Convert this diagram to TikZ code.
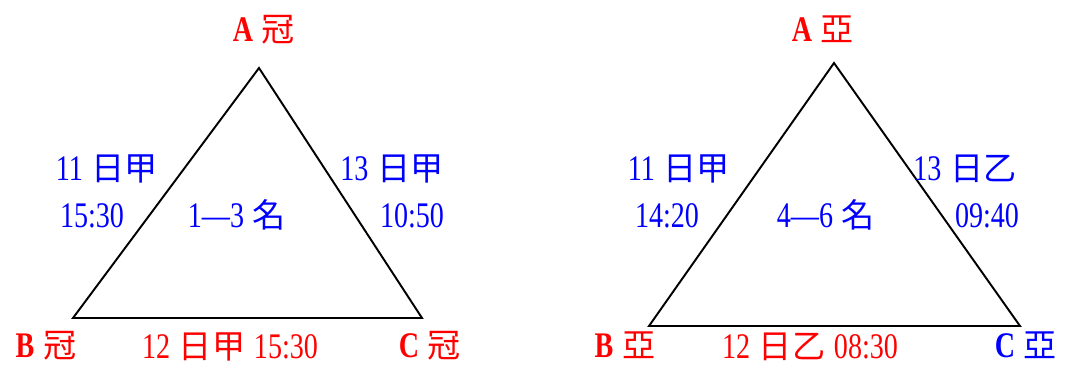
\documentclass[tikz,border=0pt]{standalone}
\usepackage{fontspec}
\setmainfont[FakeStretch=0.78]{Liberation Serif}
\newfontfamily\cjkfont[Scale=0.92]{Noto Sans CJK TC}
\newcommand\gap{\hspace{5pt}}

\begin{document}
\begin{tikzpicture}[x=0.02cm,y=0.02cm,font=\fontsize{20.5}{24}\selectfont,
vtx/.style={anchor=base,inner sep=0pt,font=\fontsize{20.5}{24}\selectfont\bfseries},
lbl/.style={anchor=base,inner sep=0pt},
edge/.style={line width=1.1pt,draw=black,line join=miter}]
\useasboundingbox(0,0)rectangle(1079,365);

% left triangle: champions
\coordinate (a1)at(259,297);
\coordinate (b1)at(73,47);
\coordinate (c1)at(422,47);
\draw[edge](a1)--(b1)--(c1)--cycle;
\node[vtx,red] (na1)at(264,323){A\gap{\cjkfont\mdseries 冠}};
\node[vtx,red] (nb1)at(46,7){B\gap{\cjkfont\mdseries 冠}};
\node[vtx,red] (nc1)at(430,7){C\gap{\cjkfont\mdseries 冠}};
\node[lbl,blue] (ab1)at(107,184){11\gap{\cjkfont 日甲}};
\node[lbl,blue] (ab1t)at(92,137){15:30};
\node[lbl,blue] (ac1)at(392,184){13\gap{\cjkfont 日甲}};
\node[lbl,blue] (ac1t)at(412,137){10:50};
\node[lbl,blue] (mid1)at(237,137){1—3\gap{\cjkfont 名}};
\node[lbl,red] (bc1)at(230,6){12\gap{\cjkfont 日甲}\gap 15:30};

% right triangle: runners-up
\coordinate (a2)at(834,302);
\coordinate (b2)at(649,39);
\coordinate (c2)at(1020,39);
\draw[edge](a2)--(b2)--(c2)--cycle;
\node[vtx,red] (na2)at(823,323){A\gap{\cjkfont\mdseries 亞}};
\node[vtx,red] (nb2)at(625,7){B\gap{\cjkfont\mdseries 亞}};
\node[vtx,blue] (nc2)at(1026,7){C\gap{\cjkfont\mdseries 亞}};
\node[lbl,blue] (ab2)at(679,184){11\gap{\cjkfont 日甲}};
\node[lbl,blue] (ab2t)at(667,137){14:20};
\node[lbl,blue] (ac2)at(965,184){13\gap{\cjkfont 日乙}};
\node[lbl,blue] (ac2t)at(987,137){09:40};
\node[lbl,blue] (mid2)at(826,137){4—6\gap{\cjkfont 名}};
\node[lbl,red] (bc2)at(810,6){12\gap{\cjkfont 日乙}\gap 08:30};
\end{tikzpicture}
\end{document}
